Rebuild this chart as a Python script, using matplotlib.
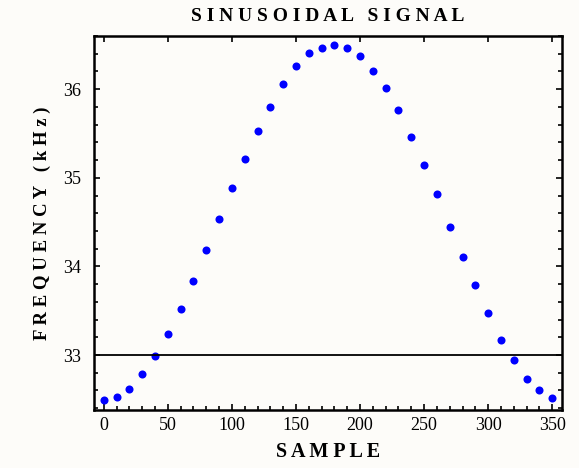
import matplotlib
matplotlib.use("Agg")
from matplotlib import pyplot as plt
from matplotlib.ticker import MultipleLocator

# samples taken every 10 steps, frequency read in kHz
sample = [0, 10, 20, 30, 40, 50, 60, 70, 80, 90, 100, 110, 120, 130, 140, 150, 160, 170,
          180, 190, 200, 210, 220, 230, 240, 250, 260, 270, 280, 290, 300, 310, 320, 330, 340, 350]
freq = [32.49, 32.53, 32.62, 32.79, 32.99, 33.24, 33.52, 33.83, 34.18, 34.53, 34.89, 35.21,
        35.53, 35.80, 36.06, 36.26, 36.41, 36.47, 36.50, 36.47, 36.37, 36.21, 36.01, 35.76,
        35.46, 35.14, 34.82, 34.45, 34.11, 33.79, 33.47, 33.17, 32.94, 32.73, 32.60, 32.51]
ref_level = 33

def spaced(s):
    return " ".join(s)

plt.rcParams['font.family'] = ['Liberation Serif', 'DejaVu Serif']

fig = plt.figure(figsize=(5.79, 4.68), dpi=100, facecolor='#fdfcf9')
ax = fig.add_axes([0.162, 0.124, 0.809, 0.799])
ax.set_facecolor('#fdfcf9')

ax.plot(sample, freq, 'o', color='#0000ff', markersize=5.8, markeredgewidth=0)
ax.axhline(ref_level, color='black', linewidth=1.3)

ax.set_xlim(-7.8, 357.8)
ax.set_ylim(32.38, 36.60)

ax.xaxis.set_major_locator(MultipleLocator(50))
ax.xaxis.set_minor_locator(MultipleLocator(10))
ax.yaxis.set_major_locator(MultipleLocator(1))
ax.yaxis.set_minor_locator(MultipleLocator(0.2))
ax.tick_params(which='both', direction='in', top=True, right=True, width=1.2, labelsize=13)
ax.tick_params(which='major', length=4)
ax.tick_params(axis='x', which='major', pad=5)
ax.tick_params(axis='y', which='major', pad=9)
ax.tick_params(which='minor', length=3, top=False)

for sp in ax.spines.values():
    sp.set_linewidth(1.8)

ax.set_title(spaced("SINUSOIDAL") + "   " + spaced("SIGNAL"), fontsize=14,
             fontweight='bold', pad=10.5)
ax.set_xlabel(spaced("SAMPLE"), fontsize=14.5, fontweight='bold', labelpad=6)
ax.set_ylabel(spaced("FREQUENCY") + "   " + spaced("(kHz)"), fontsize=13.5,
              fontweight='bold', labelpad=9)

plt.savefig("out.png", dpi=100, facecolor=fig.get_facecolor())
